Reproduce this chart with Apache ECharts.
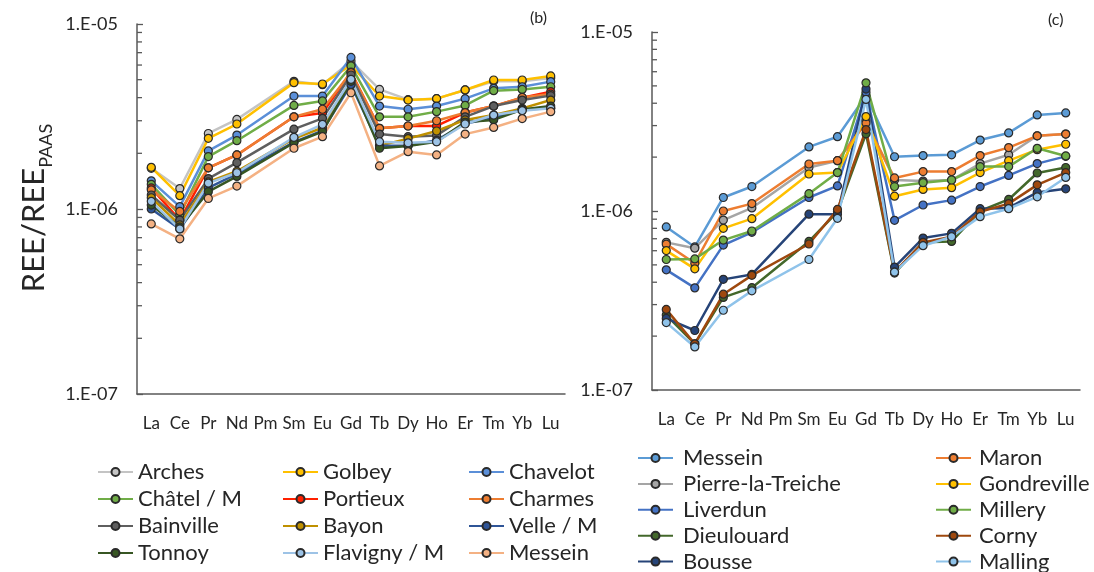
<!DOCTYPE html>
<html>
<head>
<meta charset="utf-8">
<style>
  html, body { margin: 0; padding: 0; background: #ffffff; }
  #chart { width: 1094px; height: 572px; }
</style>
<script src="https://cdn.jsdelivr.net/npm/echarts@6/dist/echarts.min.js"></script>
</head>
<body>
<div id="chart"></div>
<script>
// ---------- DATA ----------
const categories = ['La','Ce','Pr','Nd','Pm','Sm','Eu','Gd','Tb','Dy','Ho','Er','Tm','Yb','Lu'];
const yTickValues = [1e-7, 1e-6, 1e-5];
const minorTickValues = [2e-7,3e-7,4e-7,5e-7,6e-7,7e-7,8e-7,9e-7,2e-6,3e-6,4e-6,5e-6,6e-6,7e-6,8e-6,9e-6];

// Panel (b)
const bNames = ['Arches','Golbey','Chavelot','Châtel / M','Portieux','Charmes','Bainville','Bayon','Velle / M','Tonnoy','Flavigny / M','Messein'];
const bArches    = [1.66e-6,1.29e-6,2.56e-6,3.05e-6,null,4.9e-6,4.7e-6,6.3e-6,4.43e-6,3.9e-6,3.95e-6,4.4e-6,4.9e-6,4.9e-6,5.1e-6];
const bGolbey    = [1.68e-6,1.18e-6,2.41e-6,2.88e-6,null,4.82e-6,4.74e-6,6.0e-6,4.08e-6,3.88e-6,3.95e-6,4.40e-6,4.98e-6,4.98e-6,5.24e-6];
const bChavelot  = [1.42e-6,1.03e-6,2.06e-6,2.51e-6,null,4.08e-6,4.08e-6,6.6e-6,3.60e-6,3.46e-6,3.60e-6,3.95e-6,4.49e-6,4.58e-6,4.88e-6];
const bChatel    = [1.36e-6,0.93e-6,1.92e-6,2.34e-6,null,3.63e-6,3.84e-6,5.93e-6,3.15e-6,3.15e-6,3.36e-6,3.63e-6,4.36e-6,4.43e-6,4.58e-6];
const bPortieux  = [1.30e-6,0.87e-6,1.67e-6,1.96e-6,null,3.15e-6,3.30e-6,5.5e-6,2.73e-6,2.81e-6,2.81e-6,3.32e-6,3.6e-6,4.0e-6,4.31e-6];
const bCharmes   = [1.27e-6,0.97e-6,1.67e-6,1.96e-6,null,3.15e-6,3.46e-6,5.46e-6,2.73e-6,2.81e-6,3.0e-6,3.32e-6,3.6e-6,4.01e-6,4.18e-6];
const bBainville = [1.19e-6,0.87e-6,1.46e-6,1.78e-6,null,2.70e-6,3.09e-6,5.3e-6,2.54e-6,2.46e-6,2.5e-6,3.15e-6,3.6e-6,3.88e-6,4.1e-6];
const bBayon     = [1.15e-6,0.82e-6,1.40e-6,1.60e-6,null,2.40e-6,2.75e-6,5.0e-6,2.20e-6,2.40e-6,2.64e-6,3.03e-6,3.22e-6,3.5e-6,3.88e-6];
const bVelle     = [1.0e-6,0.78e-6,1.30e-6,1.55e-6,null,2.30e-6,2.65e-6,4.7e-6,2.20e-6,2.20e-6,2.35e-6,2.9e-6,3.1e-6,3.45e-6,3.5e-6];
const bTonnoy    = [1.05e-6,0.80e-6,1.24e-6,1.50e-6,null,2.28e-6,2.62e-6,4.9e-6,2.13e-6,2.19e-6,2.31e-6,2.95e-6,3.03e-6,3.45e-6,3.6e-6];
const bFlavigny  = [1.10e-6,0.78e-6,1.38e-6,1.57e-6,null,2.44e-6,2.87e-6,5.02e-6,2.31e-6,2.28e-6,2.31e-6,2.88e-6,3.22e-6,3.40e-6,3.50e-6];
const bMessein   = [8.3e-7,6.9e-7,1.14e-6,1.33e-6,null,2.13e-6,2.46e-6,4.25e-6,1.71e-6,2.04e-6,1.96e-6,2.54e-6,2.76e-6,3.08e-6,3.36e-6];

// Panel (c)
const cNames = ['Messein','Pierre-la-Treiche','Liverdun','Dieulouard','Bousse','Maron','Gondreville','Millery','Corny','Malling'];
const cMessein     = [8.15e-7,6.3e-7,1.19e-6,1.37e-6,null,2.28e-6,2.60e-6,4.4e-6,2.01e-6,2.04e-6,2.06e-6,2.49e-6,2.73e-6,3.44e-6,3.53e-6];
const cPierre      = [6.68e-7,6.2e-7,8.9e-7,1.04e-6,null,1.75e-6,1.91e-6,3.2e-6,1.49e-6,1.47e-6,1.49e-6,1.84e-6,2.06e-6,2.63e-6,2.69e-6];
const cLiverdun    = [4.69e-7,3.72e-7,6.45e-7,7.6e-7,null,1.19e-6,1.38e-6,4.6e-6,8.87e-7,1.08e-6,1.15e-6,1.37e-6,1.58e-6,1.84e-6,2.02e-6];
const cDieulouard  = [2.62e-7,1.81e-7,3.29e-7,3.73e-7,null,6.76e-7,9.9e-7,2.7e-6,4.5e-7,6.68e-7,6.76e-7,1.0e-6,1.16e-6,1.63e-6,1.75e-6];
const cBousse      = [2.51e-7,2.15e-7,4.15e-7,4.42e-7,null,9.6e-7,9.6e-7,4.8e-6,4.86e-7,7.06e-7,7.5e-7,1.03e-6,1.04e-6,1.27e-6,1.33e-6];
const cMaron       = [6.53e-7,5.11e-7,1.0e-6,1.10e-6,null,1.83e-6,1.91e-6,3.1e-6,1.53e-6,1.66e-6,1.66e-6,2.04e-6,2.26e-6,2.63e-6,2.69e-6];
const cGondreville = [6.01e-7,4.75e-7,8.0e-7,9.06e-7,null,1.61e-6,1.64e-6,3.37e-6,1.21e-6,1.32e-6,1.35e-6,1.64e-6,1.91e-6,2.2e-6,2.36e-6];
const cMillery     = [5.36e-7,5.40e-7,6.88e-7,7.73e-7,null,1.25e-6,1.64e-6,5.2e-6,1.37e-6,1.44e-6,1.49e-6,1.77e-6,1.77e-6,2.24e-6,2.03e-6];
const cCorny       = [2.82e-7,1.81e-7,3.43e-7,4.37e-7,null,6.54e-7,1.02e-6,2.85e-6,4.56e-7,6.68e-7,7.18e-7,9.9e-7,1.10e-6,1.40e-6,1.64e-6];
const cMalling     = [2.38e-7,1.74e-7,2.79e-7,3.58e-7,null,5.36e-7,9.1e-7,4.2e-6,4.56e-7,6.4e-7,7.18e-7,9.3e-7,1.03e-6,1.20e-6,1.54e-6];

// ---------- STYLE ----------
const FONT = 'Lato';
const TXT = '#262626';
const AXIS = '#595959';
const bData = [bArches,bGolbey,bChavelot,bChatel,bPortieux,bCharmes,bBainville,bBayon,bVelle,bTonnoy,bFlavigny,bMessein];
const bColors = ['#c4c4c4','#ffc000','#5b8fd8','#70ad47','#ff2000','#ed7d31','#5f5f5f','#bf9000','#2f5597','#375623','#9dc3e6','#f4b183'];
const cData = [cMessein,cPierre,cLiverdun,cDieulouard,cBousse,cMaron,cGondreville,cMillery,cCorny,cMalling];
const cColors = ['#5b9bd5','#a5a5a5','#4472c4','#43682b','#264478','#ed7d31','#ffc000','#70ad47','#9e480e','#8fc3ea'];
const C_SUFFIX = ' (c)';

function lineSeries(name, data, color, gi) {
  return {
    type: 'line', name: name, data: data,
    xAxisIndex: gi, yAxisIndex: gi,
    connectNulls: true,
    symbol: 'circle', symbolSize: 8,
    lineStyle: { color: color, width: 2.5 },
    itemStyle: { color: color, borderColor: '#2a2a2a', borderWidth: 1.2 },
    emphasis: { disabled: true },
    animation: false
  };
}
function minorTicks(gi) {
  return {
    type: 'custom', xAxisIndex: gi, yAxisIndex: gi, silent: true, animation: false,
    data: minorTickValues.map(v => [0, v]),
    renderItem: function (params, api) {
      const p = api.coord([0, api.value(1)]);
      const x0 = params.coordSys.x;
      return { type: 'line', shape: { x1: x0, y1: p[1], x2: x0 + 5, y2: p[1] },
               style: { stroke: AXIS, lineWidth: 1.3 } };
    }
  };
}
function fmtY(v) {
  const e = Math.round(Math.log10(v));
  const a = Math.abs(e);
  return '1.E' + (e < 0 ? '-' : '+') + (a < 10 ? '0' + a : a);
}
function xAxis(gi) {
  return {
    type: 'category', gridIndex: gi, data: categories, boundaryGap: true,
    axisLine: { lineStyle: { color: AXIS, width: 1.5 } },
    axisTick: { alignWithLabel: true, inside: true, length: 5, lineStyle: { color: AXIS, width: 1.3 } },
    axisLabel: { interval: 0, color: TXT, fontFamily: FONT, fontSize: 17, margin: 21 },
    splitLine: { show: false }
  };
}
function yAxis(gi) {
  return {
    type: 'log', logBase: 10, gridIndex: gi, min: 1e-7, max: 1e-5,
    axisLine: { show: true, lineStyle: { color: AXIS, width: 1.5 } },
    axisTick: { show: true, inside: true, length: 6, lineStyle: { color: AXIS, width: 1.3 } },
    axisLabel: { color: TXT, fontFamily: FONT, fontSize: 18, margin: 19, formatter: fmtY },
    splitLine: { show: false }
  };
}
function legend(names, left, top, gap, textPad, fmt) {
  return {
    orient: 'vertical', left: left, top: top, height: 150, padding: 0,
    data: names, itemGap: gap,
    itemWidth: 35, itemHeight: 10, selectedMode: false,
    textStyle: { color: TXT, fontFamily: FONT, fontSize: 22, padding: [0, 0, 0, textPad] },
    formatter: fmt || (n => n)
  };
}

const series = [];
bNames.forEach((n, i) => series.push(lineSeries(n, bData[i], bColors[i], 0)));
cNames.forEach((n, i) => series.push(lineSeries(n + C_SUFFIX, cData[i], cColors[i], 1)));
series.push(minorTicks(0));
series.push(minorTicks(1));

const stripC = n => n.replace(C_SUFFIX, '');
const cn = cNames.map(n => n + C_SUFFIX);

const option = {
  backgroundColor: '#ffffff',
  animation: false,
  grid: [
    { left: 137, right: 529, top: 24, bottom: 178 },
    { left: 652, right: 14, top: 32, bottom: 182 }
  ],
  xAxis: [xAxis(0), xAxis(1)],
  yAxis: [yAxis(0), yAxis(1)],
  legend: [
    legend([bNames[0], bNames[3], bNames[6], bNames[9]], 97, 461, 5, 0),
    legend([bNames[1], bNames[4], bNames[7], bNames[10]], 282, 461, 5, 0),
    legend([bNames[2], bNames[5], bNames[8], bNames[11]], 468, 461, 5, 0),
    legend([cn[0], cn[1], cn[2], cn[3], cn[4]], 637, 447, 3.9, 5, stripC),
    legend([cn[5], cn[6], cn[7], cn[8], cn[9]], 935, 447, 3.9, 3, stripC)
  ],
  graphic: [
    { type: 'text', left: 530, top: 10, style: { text: '(b)', fill: TXT, font: '16px ' + FONT } },
    { type: 'text', left: 1048, top: 12, style: { text: '(c)', fill: TXT, font: '16px ' + FONT } },
    { type: 'text', x: 30, y: 208, rotation: Math.PI / 2,
      style: {
        text: '{a|REE/REE}{b|PAAS}',
        align: 'center', verticalAlign: 'middle',
        rich: {
          a: { fontFamily: FONT, fontSize: 31, fill: TXT, color: TXT, lineHeight: 38, verticalAlign: 'bottom' },
          b: { fontFamily: FONT, fontSize: 18, fill: TXT, color: TXT, lineHeight: 38, verticalAlign: 'bottom', padding: [0, 0, -6, 0] }
        }
      } }
  ],
  series: series
};

const chart = echarts.init(document.getElementById('chart'), null, { renderer: 'canvas' });
chart.setOption(option);
</script>
</body>
</html>
